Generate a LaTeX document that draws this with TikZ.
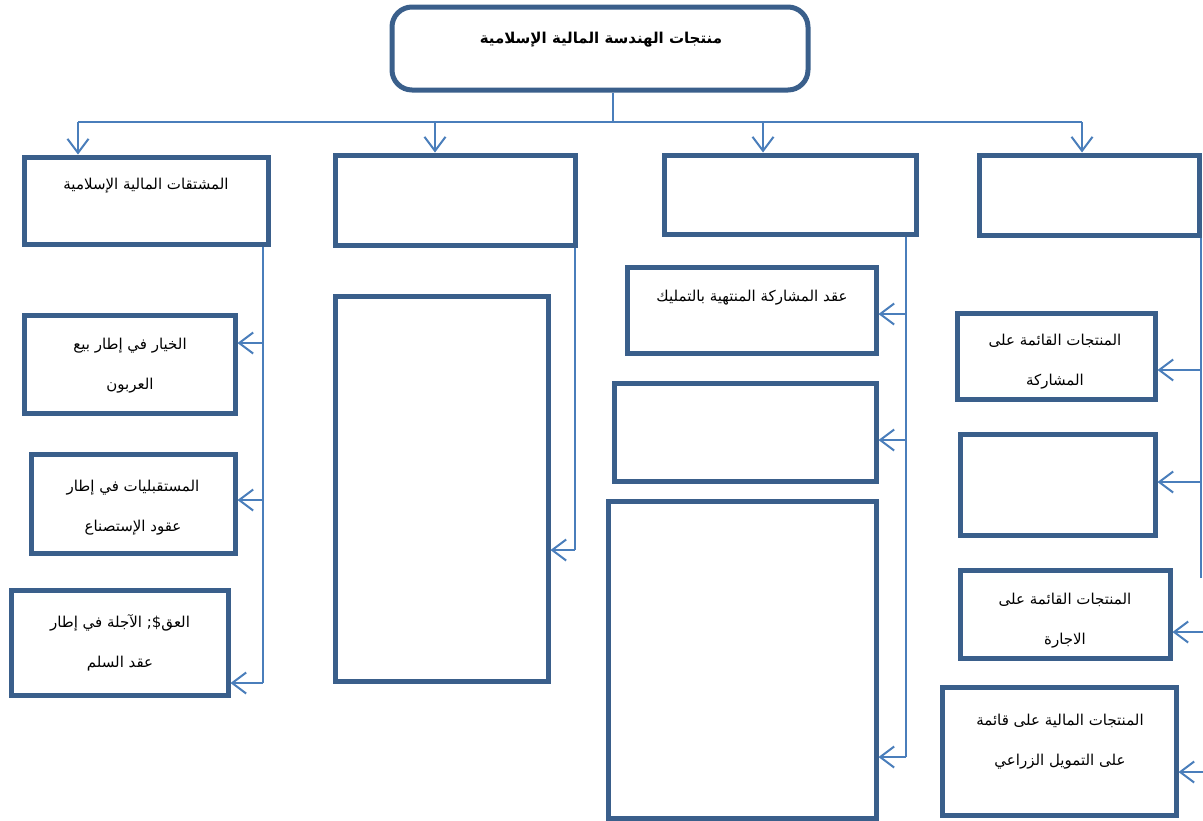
\documentclass[tikz,border=0pt]{standalone}
\usepackage{fontspec}
\usetikzlibrary{arrows.meta,calc}
\TeXXeTstate=1
\newfontfamily\arabicfont[Script=Arabic]{DejaVu Sans}
\definecolor{boxblue}{HTML}{3A5F8B}
\definecolor{linkblue}{HTML}{4A7EBB}
\tikzset{
  box/.style={draw=boxblue,line width=5pt,fill=white,inner sep=0pt},
  topbox/.style={box,rounded corners=20pt},
  conn/.style={draw=linkblue,line width=2pt},
  arr/.style={conn,-{Straight Barb[length=14pt,width=21pt,line width=2pt]}},
  lbl/.style={font=\arabicfont\fontsize{15}{40}\selectfont,align=center,text=black,inner sep=0pt},
  ttl/.style={font=\arabicfont\bfseries\fontsize{15}{18}\selectfont,text=black,inner sep=0pt}
}
\newcommand{\bx}[6][box]{\node[#1,minimum width={#4-#2},minimum height={#5-#3}] (#6) at ({(#2+#4)/2},{(#3+#5)/2}) {};}
\begin{document}
\begin{tikzpicture}[x=1pt,y=-1pt]
\useasboundingbox (0,0) rectangle (1203,820);
% top
\bx[topbox]{392}{7}{808}{90}{T}
\node[ttl] (Tt) at (601,40) {\beginR منتجات الهندسة المالية الإسلامية\endR};
% second row
\bx{24}{157}{268}{244}{B1}
\bx{335}{155}{575}{245}{B2}
\bx{664}{155}{916}{234}{B3}
\bx{979}{155}{1199}{235}{B4}
\node[lbl] (B1t) at (146,186) {\beginR المشتقات المالية الإسلامية\endR};
% left column
\bx{24}{315}{235}{413}{L1}
\bx{31}{454}{235}{553}{L2}
\bx{11}{590}{228}{695}{L3}
\node[lbl] (L1t) at (130,366) {\beginR الخيار في إطار بيع\endR\\\beginR العربون\endR};
\node[lbl] (L2t) at (133,508) {\beginR المستقبليات في إطار\endR\\\beginR عقود الإستصناع\endR};
\node[lbl] (L3t) at (120,643) {\beginR العق\$; الآجلة في إطار\endR\\\beginR عقد السلم\endR};
% middle-left column
\bx{335}{296}{548}{681}{M}
% middle-right column
\bx{627}{267}{876}{353}{R1}
\bx{614}{383}{876}{481}{R2}
\bx{608}{501}{876}{818}{R3}
\node[lbl] (R1t) at (752,298) {\beginR عقد المشاركة المنتهية بالتمليك\endR};
% right column
\bx{957}{313}{1155}{399}{Q1}
\bx{960}{434}{1155}{535}{Q2}
\bx{960}{570}{1170}{658}{Q3}
\bx{942}{687}{1176}{815}{Q4}
\node[lbl] (Q1t) at (1055,362) {\beginR المنتجات القائمة على\endR\\\beginR المشاركة\endR};
\node[lbl] (Q3t) at (1065,621) {\beginR المنتجات القائمة على\endR\\\beginR الاجارة\endR};
\node[lbl] (Q4t) at (1060,742) {\beginR المنتجات المالية على قائمة\endR\\\beginR على التمويل الزراعي\endR};
% coordinates for connectors
\coordinate (hub) at (613,122);
\coordinate (hl) at (78,122);
\coordinate (hr) at (1082,122);
\coordinate (lv) at (263,683);
\coordinate (mv) at (575,550);
\coordinate (rv) at (906,757);
\coordinate (qv) at (1201,578);
\coordinate (qe) at (1203,0);
% top connectors
\draw[conn] (T.south -| hub) -- (hub);
\draw[conn] (hl) -- (hr);
\draw[arr] (hl) -- (B1.north -| hl);
\draw[arr] (435,122) -- (B2.north -| 435,0);
\draw[arr] (763,122) -- (B3.north -| 763,0);
\draw[arr] (hr) -- (B4.north -| hr);
% left column
\draw[conn] (B1.south -| lv) -- (lv);
\draw[arr] (lv |- 0,343) -- (L1.east |- 0,343);
\draw[arr] (lv |- 0,500) -- (L2.east |- 0,500);
\draw[arr] (lv) -- (L3.east |- lv);
% middle-left
\draw[conn] (B2.south -| mv) -- (mv);
\draw[arr] (mv) -- (M.east |- mv);
% middle-right
\draw[conn] (B3.south -| rv) -- (rv);
\draw[arr] (rv |- 0,314) -- (R1.east |- 0,314);
\draw[arr] (rv |- 0,440) -- (R2.east |- 0,440);
\draw[arr] (rv) -- (R3.east |- rv);
% right column
\draw[conn] (B4.south -| qv) -- (qv);
\draw[arr] (qv |- 0,370) -- (Q1.east |- 0,370);
\draw[arr] (qv |- 0,482) -- (Q2.east |- 0,482);
\draw[arr] (qe |- 0,632) -- (Q3.east |- 0,632);
\draw[arr] (qe |- 0,772) -- (Q4.east |- 0,772);
\end{tikzpicture}
\end{document}
